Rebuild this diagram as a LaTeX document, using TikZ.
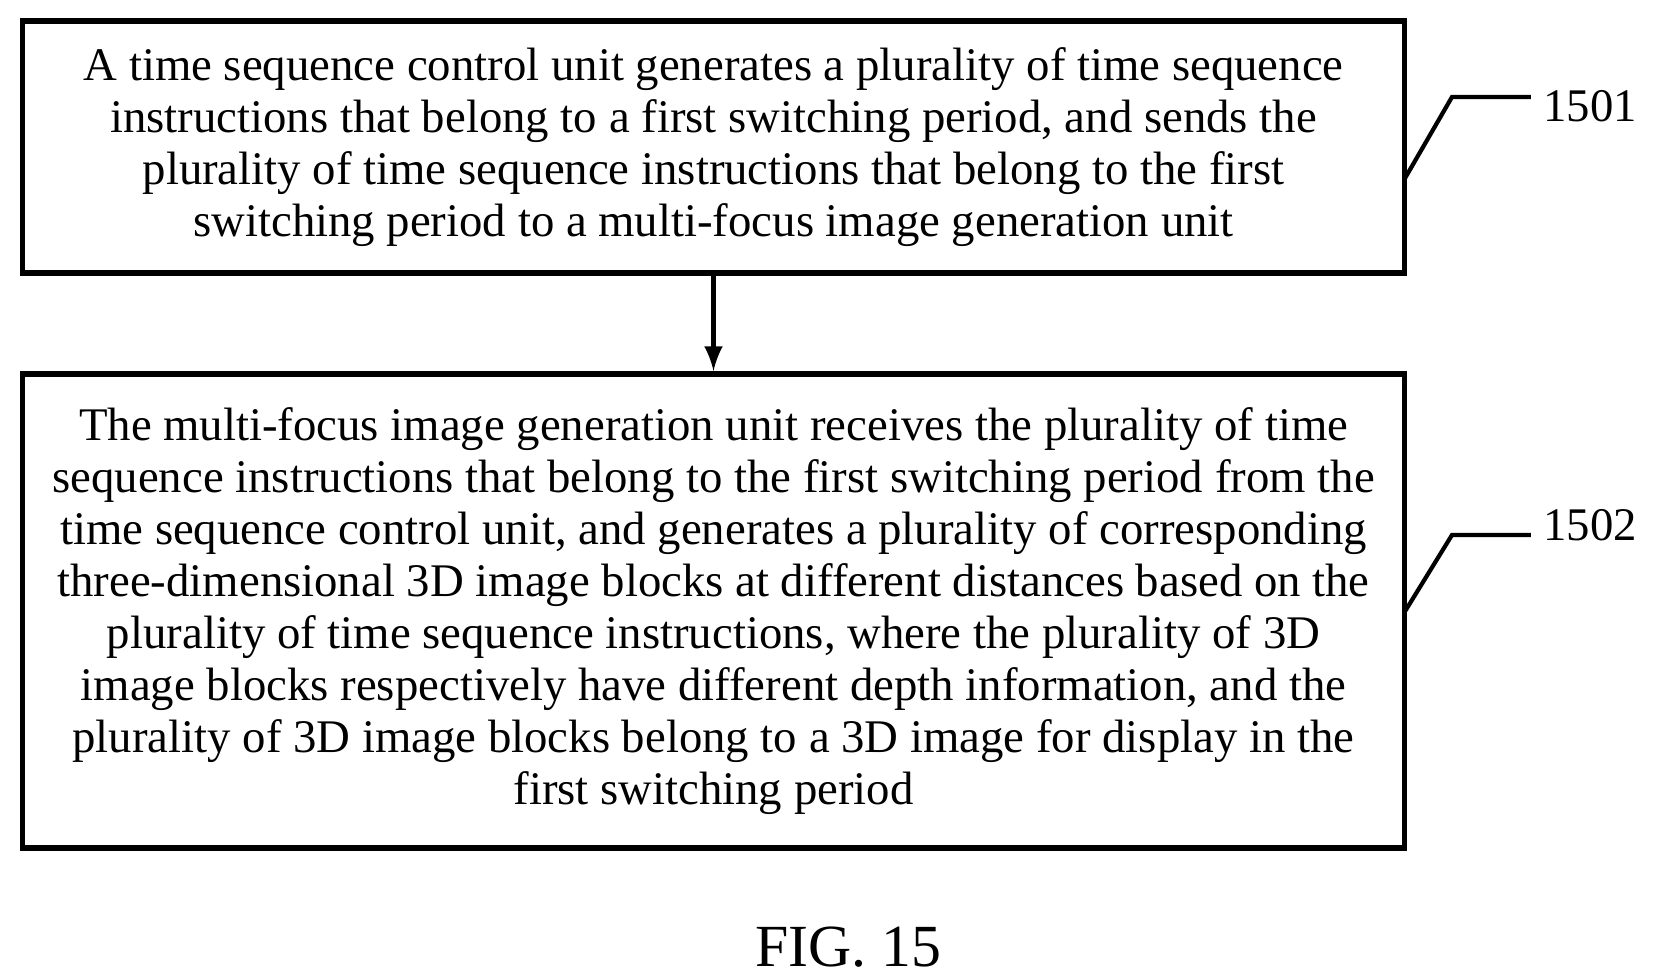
\documentclass[tikz,border=0pt]{standalone}
\usepackage{fontspec}
\setmainfont{Liberation Serif}
\usetikzlibrary{positioning}
\begin{document}
\begin{tikzpicture}[x=0.01cm,y=-0.01cm,
  stepbox/.style={draw,line width=1.6pt,minimum width=13.81cm,align=center,
    font=\fontsize{13.3}{14.8}\selectfont,inner sep=0pt},
  lead/.style={line width=1.2pt},
  num/.style={font=\fontsize{13.3}{14.8}\selectfont}]
\useasboundingbox (0,0) rectangle (1653,980);

\node [stepbox,minimum height=2.52cm](s1) at (713.5,147) {A time sequence control unit generates a plurality of time sequence\\
instructions that belong to a first switching period, and sends the\\
plurality of time sequence instructions that belong to the first\\
switching period to a multi-focus image generation unit};
\node [stepbox,minimum height=4.74cm](s2) at (713.5,611) {The multi-focus image generation unit receives the plurality of time\\
sequence instructions that belong to the first switching period from the\\
time sequence control unit, and generates a plurality of corresponding\\
three-dimensional 3D image blocks at different distances based on the\\
plurality of time sequence instructions, where the plurality of 3D\\
image blocks respectively have different depth information, and the\\
plurality of 3D image blocks belong to a 3D image for display in the\\
first switching period};

\draw [-latex,line width=1.4pt] (s1.south)--(s2.north);

\node [num](n1) at (1590,106) {1501};
\node [num](n2) at (1590,525) {1502};
\coordinate (k1) at (1452,97);
\coordinate (k2) at (1452,535);
\draw [lead] (1404,180)--(k1)--(n1.west|-k1);
\draw [lead] (1404,613)--(k2)--(n2.west|-k2);

\node [font=\fontsize{17}{20}\selectfont](fig) at (848,947) {FIG. 15};
\end{tikzpicture}
\end{document}
